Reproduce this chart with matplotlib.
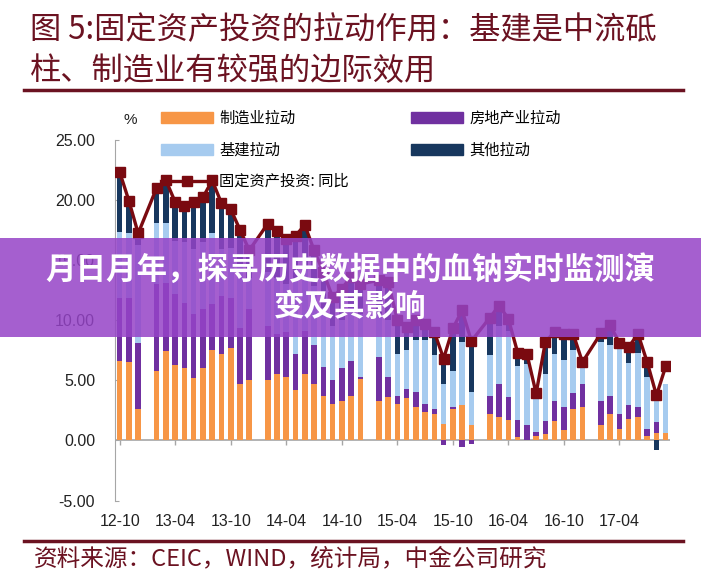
import numpy as np
import matplotlib.pyplot as plt
from matplotlib.patches import Rectangle, Patch
from matplotlib.lines import Line2D

plt.rcParams['font.family'] = ['Noto Sans CJK SC', 'DejaVu Sans']

# monthly data, January is merged into February so it is missing
months = ['12-10', '12-11', '12-12',
          '13-02', '13-03', '13-04', '13-05', '13-06', '13-07', '13-08', '13-09', '13-10', '13-11', '13-12',
          '14-02', '14-03', '14-04', '14-05', '14-06', '14-07', '14-08', '14-09', '14-10', '14-11', '14-12',
          '15-02', '15-03', '15-04', '15-05', '15-06', '15-07', '15-08', '15-09', '15-10', '15-11', '15-12',
          '16-02', '16-03', '16-04', '16-05', '16-06', '16-07', '16-08', '16-09', '16-10', '16-11', '16-12',
          '17-02', '17-03', '17-04', '17-05', '17-06', '17-07', '17-08', '17-09']

manufacturing = [6.6, 6.5, 2.6,
                 5.8, 7.4, 6.3, 6.0, 5.2, 6.0, 7.5, 7.2, 7.7, 4.7, 5.0,
                 5.0, 5.5, 5.3, 4.15, 5.5, 4.7, 3.7, 3.0, 3.3, 3.7, 5.1,
                 3.3, 3.6, 3.05, 3.5, 2.8, 2.35, 2.2, 1.4, 2.6, 2.9, 1.25,
                 2.2, 1.94, 1.7, 0.3, 0.05, 0.4, 0.55, 1.6, 0.83, 2.63, 2.77,
                 1.25, 2.2, 0.97, 1.8, 1.94, 0.33, 0.61, 0.61]

real_estate = [5.2, 5.3, 5.5,
               7.2, 5.7, 5.9, 5.4, 5.3, 4.9, 3.8, 4.8, 4.1, 4.6, 5.9,
               4.5, 3.3, 3.7, 3.05, 3.6, 3.2, 2.4, 2.0, 2.7, 2.9, 0.2,
               3.6, 1.7, 0.65, 0.8, 1.2, 0.7, 0.4, -0.4, 0.2, -0.55, -0.3,
               1.5, 2.76, 1.9, 1.36, 1.2, 0.3, 1.1, 1.7, 1.94, 1.27, 1.93,
               2.05, 1.5, 1.23, 1.1, 0.86, 0.64, 0.89, 0.0]

infrastructure = [5.5, 5.4, 8.1,
                  5.1, 5.0, 4.4, 5.1, 5.4, 5.6, 5.9, 3.9, 4.2, 5.2, 2.6,
                  4.5, 4.7, 4.0, 6.3, 5.4, 4.9, 4.9, 4.5, 4.0, 4.4, 5.2,
                  3.6, 4.7, 3.5, 3.2, 4.3, 5.25, 4.46, 3.3, 3.0, 5.3, 2.75,
                  3.36, 4.8, 5.5, 4.54, 5.1, 2.8, 3.84, 3.9, 3.87, 3.6, 1.6,
                  4.9, 4.2, 5.4, 3.5, 4.5, 4.33, 2.2, 4.1]

other = [5.0, 2.6, 1.1,
         2.95, 3.5, 3.0, 2.9, 3.8, 3.4, 4.2, 3.8, 3.1, 3.0, 2.3,
         4.0, 3.9, 3.7, 3.5, 3.4, 3.0, 3.0, 2.4, 2.6, 2.6, 2.5,
         2.8, 3.2, 2.8, 1.9, 1.7, 1.4, 1.94, 2.1, 3.5, 2.6, 4.2,
         3.14, 1.7, 1.0, 1.1, 0.85, 0.4, 2.7, 1.8, 2.16, 1.36, 0.2,
         0.7, 1.65, 0.5, 1.35, 1.56, 1.2, -0.83, 0.0]

fai_yoy = [22.3, 19.9, 17.2,
           21.0, 21.6, 19.8, 19.5, 19.8, 20.2, 21.6, 19.7, 19.2, 17.5, 15.8,
           18.0, 17.4, 16.75, 17.0, 17.9, 15.8, 14.0, 11.9, 12.6, 13.6, 13.0,
           13.3, 13.2, 10.0, 9.4, 10.0, 9.7, 9.0, 6.8, 9.3, 10.8, 8.25,
           10.2, 11.2, 10.1, 7.3, 7.2, 3.9, 8.2, 9.0, 8.8, 8.86, 6.5,
           8.9, 9.55, 8.1, 7.75, 8.86, 6.5, 3.74, 6.15]

tick_labels = ['12-10', '13-04', '13-10', '14-04', '14-10', '15-04', '15-10', '16-04', '16-10', '17-04']

series = [('制造业拉动', manufacturing, '#F79646'),
          ('房地产业拉动', real_estate, '#7030A0'),
          ('基建拉动', infrastructure, '#A6CBEF'),
          ('其他拉动', other, '#17375E')]
line_color = '#7A0A10'
dark_red = '#6B1221'


def month_pos(m):
    yy, mm = m.split('-')
    return (int(yy) - 12) * 12 + int(mm) - 10


x = np.array([month_pos(m) for m in months])

fig = plt.figure(figsize=(7.01, 5.78), dpi=100)
ax = fig.add_axes([0.1636, 0.134, 0.792, 0.6246])

pos_bottom = np.zeros(len(x))
neg_bottom = np.zeros(len(x))
for name, vals, col in series:
    v = np.array(vals)
    bottom = np.where(v >= 0, pos_bottom, neg_bottom)
    ax.bar(x, v, bottom=bottom, width=0.6, color=col, linewidth=0, zorder=2)
    pos_bottom += np.where(v >= 0, v, 0)
    neg_bottom += np.where(v < 0, v, 0)

ax.plot(x, fai_yoy, color=line_color, lw=2.4, marker='s', ms=6.5, zorder=3)

ax.set_xlim(-0.54, 59.45)
ax.set_ylim(-5, 25)
ax.set_yticks(np.arange(-5, 26, 5))
ax.set_yticklabels([f'{v:.2f}' for v in np.arange(-5, 26, 5)])
ax.set_xticks([month_pos(m) for m in tick_labels])
ax.set_xticklabels(tick_labels)

for s in ['top', 'right', 'bottom']:
    ax.spines[s].set_visible(False)
ax.spines['left'].set_color('#a6a6a6')
ax.axhline(0, color='#a6a6a6', lw=1.2, zorder=1)
ax.vlines([month_pos(m) for m in tick_labels], -0.35, 0, color='#a6a6a6', lw=1, zorder=1)
ax.tick_params(axis='y', direction='in', length=3, color='#a6a6a6', pad=14,
               labelsize=11.5, labelcolor='#222222')
ax.tick_params(axis='x', length=0, pad=10, labelsize=11.5, labelcolor='#222222')
for lab in ax.get_xticklabels() + ax.get_yticklabels():
    lab.set_family('Liberation Sans')

ax.text(0.015, 1.035, '%', transform=ax.transAxes, fontsize=11, family='Liberation Sans',
        color='#222222', va='bottom')

# legend
handles = [Patch(color=series[0][2]), Patch(color=series[2][2]),
           Line2D([], [], color=line_color, lw=2.4, marker='s', ms=6.5),
           Patch(color=series[1][2]), Patch(color=series[3][2])]
labels = [series[0][0], series[2][0], '固定资产投资: 同比', series[1][0], series[3][0]]
fig.legend(handles, labels, loc='upper left', bbox_to_anchor=(155 / 701, 1 - 104 / 578),
           ncol=2, frameon=False, fontsize=11, handlelength=3.4, handleheight=0.75,
           labelspacing=0.95, columnspacing=4.1, handletextpad=0.4, borderaxespad=0)

# title and source
fig.text(30 / 701, 1 - 30 / 578, '图 5:固定资产投资的拉动作用：基建是中流砥',
         fontsize=22.5, color=dark_red, va='center', ha='left')
fig.text(30 / 701, 1 - 71 / 578, '柱、制造业有较强的边际效用',
         fontsize=22.5, color=dark_red, va='center', ha='left')
fig.add_artist(Line2D([24 / 701, 683 / 701], [1 - 90 / 578, 1 - 90 / 578],
                      color=dark_red, lw=2.5, transform=fig.transFigure))
fig.add_artist(Line2D([24 / 701, 683 / 701], [1 - 541 / 578, 1 - 541 / 578],
                      color=dark_red, lw=2.5, transform=fig.transFigure))
fig.text(34 / 701, 1 - 559 / 578, '资料来源：CEIC，WIND，统计局，中金公司研究',
         fontsize=17, color=dark_red, va='center', ha='left')

# overlay banner
fig.add_artist(Rectangle((0, 1 - 337 / 578), 1, 99 / 578, transform=fig.transFigure,
                         facecolor='#9543C7', alpha=0.85, edgecolor='none', zorder=10))
fig.text(0.5, 1 - 270 / 578, '月日月年，探寻历史数据中的血钠实时监测演',
         fontsize=22, fontweight='bold', color='white', ha='center', va='center', zorder=11)
fig.text(0.5, 1 - 307 / 578, '变及其影响',
         fontsize=22, fontweight='bold', color='white', ha='center', va='center', zorder=11)

fig.savefig('out.png', dpi=100, facecolor='white')
